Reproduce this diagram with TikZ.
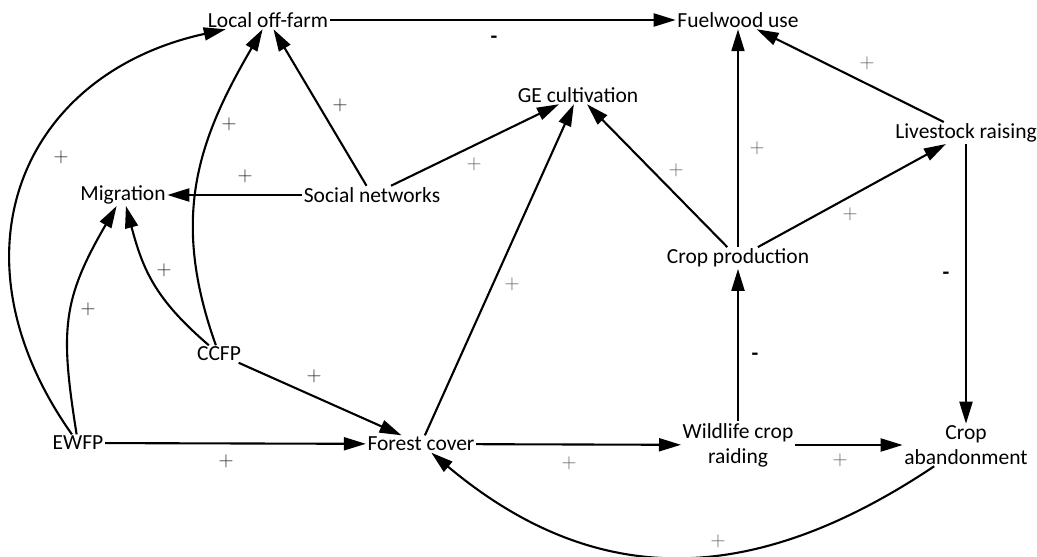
\documentclass[tikz,border=0pt]{standalone}
\usepackage{fontspec}
\setmainfont{Carlito}
\usetikzlibrary{arrows.meta}
\begin{document}
\begin{tikzpicture}[x=1pt,y=-1pt,
  lbl/.style={font=\fontsize{21.5}{25}\selectfont, inner sep=1.5pt, align=center},
  edge/.style={line width=2.1pt, -{Triangle[length=22pt,width=13pt]}},
  pl/.style={text=black!85, inner sep=0pt, font=\fontsize{22}{22}\selectfont},
  plg/.style={text=black!62, inner sep=0pt, font=\fontsize{22}{22}\selectfont},
  mn/.style={inner sep=0pt, font=\fontsize{22}{22}\selectfont\bfseries}]
\useasboundingbox (0,0) rectangle (1037,557);
% nodes
\node[lbl] (lof) at (268,20) {Local off-farm};
\node[lbl] (fw) at (738,20) {Fuelwood use};
\node[lbl] (ge) at (578,95) {GE cultivation};
\node[lbl] (ls) at (966,133) {Livestock raising};
\node[lbl] (cp) at (738,258) {Crop production};
\node[lbl] (mig) at (123,195) {Migration};
\node[lbl] (sn) at (372,195) {Social networks};
\node[lbl] (ccfp) at (219,354) {CCFP};
\node[lbl] (ewfp) at (78,443) {EWFP};
\node[lbl] (fc) at (421,444) {Forest cover};
\node[lbl] (wcr) at (738,445) {Wildlife crop\\raiding};
\node[lbl] (ca) at (966,445) {Crop\\abandonment};
% straight connectors
\draw[edge] (lof) -- (fw);
\draw[edge] (sn) -- (lof);
\draw[edge] (sn) -- (mig);
\draw[edge] (sn) -- (ge);
\draw[edge] (fc) -- (ge);
\draw[edge] (cp) -- (ge);
\draw[edge] (cp) -- (fw);
\draw[edge] (cp) -- (ls);
\draw[edge] (ls) -- (fw);
\draw[edge] (ls) -- (ca);
\draw[edge] (wcr) -- (cp);
\draw[edge] (fc) -- (wcr);
\draw[edge] (wcr.east |- ca) -- (ca);
\draw[edge] (ccfp) -- (fc);
\draw[edge] (ewfp) -- (fc);
% curved connectors
\draw[edge] (ewfp) .. controls (-55,255) and (21,74) .. (lof);
\draw[edge] (ewfp) .. controls (60,330) and (62,300) .. (mig);
\draw[edge] (ccfp) .. controls (155,299) and (143,270) .. (mig);
\draw[edge] (ccfp) .. controls (170,217) and (198,140) .. (lof);
\draw[edge] (ca) .. controls (758,584) and (600,594) .. (fc);
% polarity labels
\node[mn] (m1) at (494,40) {-};
\node[mn] (m2) at (946,276) {-};
\node[mn] (m3) at (755,357) {-};
\node[pl] (p1) at (61,157) {$+$};
\node[pl] (p2) at (88,309) {$+$};
\node[pl] (p3) at (164,270) {$+$};
\node[pl] (p4) at (229,124) {$+$};
\node[pl] (p5) at (245,176) {$+$};
\node[pl] (p6) at (340,105) {$+$};
\node[pl] (p7) at (226,461) {$+$};
\node[pl] (p8) at (314,376) {$+$};
\node[plg] (p9) at (474,164) {$+$};
\node[plg] (p10) at (512,284) {$+$};
\node[plg] (p11) at (676,170) {$+$};
\node[plg] (p12) at (757,148) {$+$};
\node[plg] (p13) at (850,214) {$+$};
\node[plg] (p14) at (867,63) {$+$};
\node[plg] (p15) at (569,463) {$+$};
\node[plg] (p16) at (840,460) {$+$};
\node[plg] (p17) at (718,541) {$+$};
\end{tikzpicture}
\end{document}
